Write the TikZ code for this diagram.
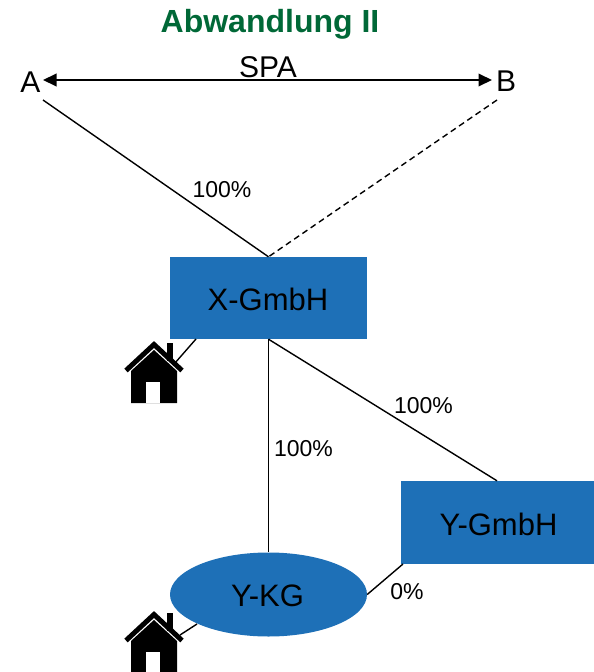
\documentclass[tikz,border=0pt]{standalone}
\usepackage{fontspec}
\setmainfont{Liberation Sans}
\usetikzlibrary{arrows.meta,shapes.geometric}
\definecolor{boxblue}{RGB}{30,112,183}
\definecolor{titlegreen}{RGB}{0,104,55}
\tikzset{
  lbl/.style={anchor=base,inner sep=0pt,font=\fontsize{23}{27}\selectfont},
  big/.style={anchor=base,inner sep=0pt,font=\fontsize{30}{34}\selectfont},
  entity/.style={draw=none,fill=boxblue,minimum width=197pt,minimum height=83pt,inner sep=0pt,font=\fontsize{31}{35}\selectfont},
  conn/.style={line width=1.4pt,black},
  house/.pic={
    \fill[black] (-23,58) -- (-23,26) -- (0,5) -- (23,26) -- (23,58) -- cycle;
    \fill[black] (13,-2) rectangle (19,16);
    \draw[black,line width=5pt,line cap=butt,line join=miter] (-28,25.5) -- (0,-0.5) -- (28,25.5);
    \fill[white] (-8,37) rectangle (6,58);
  }
}
\begin{document}
\begin{tikzpicture}[x=1pt,y=-1pt]
\useasboundingbox (0,0) rectangle (594,672);
% title
\node[anchor=base,inner sep=0pt,text=titlegreen,font=\fontsize{32}{36}\selectfont\bfseries] (title) at (270,32.5) {Abwandlung II};
% A, B, SPA
\node[big] (A) at (30.5,92.7) {A};
\node[big] (B) at (506,91.5) {B};
\node[big] (spa) at (268,77) {SPA};
\coordinate (Aarr) at (43,80);
\coordinate (Barr) at (492,80);
\draw[line width=2pt,{Triangle[length=13.5pt,width=12.5pt]}-{Triangle[length=13.5pt,width=12.5pt]}] (Aarr) -- (Barr);
% entities
\node[entity,minimum width=197pt,minimum height=82pt] (X) at (268.5,298) {};
\node[big,font=\fontsize{31}{35}\selectfont] (Xt) at (268,310) {X-GmbH};
\node[entity,minimum width=193pt,minimum height=83pt] (YG) at (497,522.5) {};
\node[big,font=\fontsize{31}{35}\selectfont] (YGt) at (498.5,535.7) {Y-GmbH};
\node[entity,ellipse,minimum width=197pt,minimum height=84pt] (YK) at (268.5,594.5) {};
\node[big,font=\fontsize{31}{35}\selectfont] (YKt) at (267.5,606.7) {Y-KG};
% connectors
\coordinate (Aline) at (43,100);
\coordinate (Bline) at (497,100);
\draw[conn] (Aline) -- (X.north);
\draw[conn,dash pattern=on 6pt off 4pt] (Bline) -- (X.north);
\draw[conn] (X.south) -- (YK.north);
\draw[conn] (X.south) -- (YG.north);
\coordinate (YGsw) at (403,564);
\draw[conn] (YGsw) -- (YK.east);
% houses
\pic at (154,345) {house};
\pic at (154,615) {house};
\coordinate (Xh) at (196,339);
\coordinate (h1) at (175,363);
\draw[conn] (Xh) -- (h1);
\coordinate (YKh) at (197,624);
\coordinate (h2) at (180,635);
\draw[conn] (YKh) -- (h2);
% labels
\node[lbl] (l1) at (222,197) {100\%};
\node[lbl] (l2) at (303.5,456) {100\%};
\node[lbl] (l3) at (423.5,413.3) {100\%};
\node[lbl] (l4) at (407,599) {0\%};
\end{tikzpicture}
\end{document}
